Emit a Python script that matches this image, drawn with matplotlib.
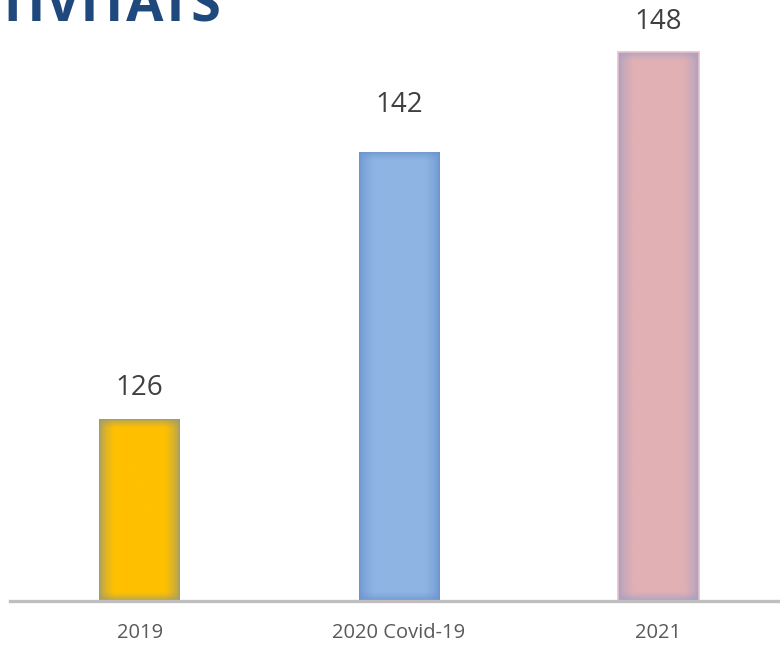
import numpy as np
import matplotlib
matplotlib.use("Agg")
from matplotlib import pyplot as plt
from matplotlib import colors as mcolors

# Data
years = ["2019", "2020 Covid-19", "2021"]
values = [126, 142, 148]

# Bar styling
fill_colors = ["#FFC000", "#8EB4E3", "#E0B0B4"]
edge_colors = ["#9C9A72", "#6A93CC", "#A09EC6"]
label_lift = [17, 33, 16]   # gap (px) between bar top and value label

plt.rcParams["font.family"] = ["Open Sans", "DejaVu Sans"]

fig = plt.figure(figsize=(7.8, 6.45), dpi=100)
W, H = 780, 645
base_px = 601
ax = fig.add_axes([10 / W, (H - base_px) / H, 778 / W, base_px / H])

x = np.arange(len(years))
bars = ax.bar(x, values, width=0.31, bottom=0, color=fill_colors, zorder=2)
ax.set_xlim(-0.5, len(years) - 0.5)
ax.set_ylim(115.1, 151.1)
px_per_unit = base_px / (151.1 - 115.1)


def glow(fill, edge, h_px, w_px=81, rim_x=15, rim_y=9, nx=160, ny=600):
    """RGBA image: flat fill with a soft darker rim."""
    f = np.array(mcolors.to_rgb(fill))
    e = np.array(mcolors.to_rgb(edge))
    u = np.linspace(0, 1, nx)
    v = np.linspace(0, 1, ny)
    dx = np.clip(np.minimum(u, 1 - u) * w_px / rim_x, 0, 1)
    dy = np.clip(np.minimum(v, 1 - v) * h_px / rim_y, 0, 1)
    d = (dx[None, :] * dy[:, None]) ** 0.55
    img = e[None, None, :] * (1 - d[..., None]) + f[None, None, :] * d[..., None]
    return img


y0 = ax.get_ylim()[0]
for b, fc, ec in zip(bars, fill_colors, edge_colors):
    x0, w = b.get_x(), b.get_width()
    y1 = b.get_height()
    im = ax.imshow(glow(fc, ec, (y1 - y0) * px_per_unit),
                   extent=[x0, x0 + w, y0, y1], aspect="auto",
                   origin="lower", zorder=3, interpolation="bilinear")
    im.set_clip_path(b)

# thin light outline on the last bar
bars[2].set_edgecolor("#EAC0C4")
bars[2].set_linewidth(1.2)
bars[2].set_zorder(4)
bars[2].set_facecolor("none")

# value labels
for xi, v, lift in zip(x, values, label_lift):
    ax.annotate(str(v), (xi, v), xytext=(0, lift * 72 / 100),
                textcoords="offset points", ha="center", va="bottom",
                fontsize=20, color="#404040", zorder=5)

# axis line and category labels
ax.axhline(y0, color="#BFBFBF", lw=2.4, zorder=6, clip_on=False)
for s in ax.spines.values():
    s.set_visible(False)
ax.set_yticks([])
ax.set_xticks([])
for xi, name in zip(x, years):
    ax.annotate(name, (xi, y0), xytext=(0, -32 * 72 / 100),
                textcoords="offset points", ha="center", va="center",
                fontsize=14.5, color="#595959", annotation_clip=False)

fig.text(-0.004, (H - 21) / H, "TIVITATS", fontsize=39, fontweight="bold",
         color="#1F497D", ha="left", va="baseline")

fig.savefig("out.png", dpi=100)
